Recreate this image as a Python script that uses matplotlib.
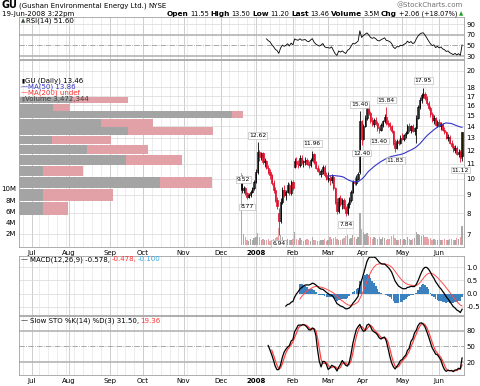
import matplotlib
matplotlib.use("Agg")
import matplotlib.pyplot as plt
from matplotlib.patches import Rectangle
from matplotlib.ticker import NullLocator, NullFormatter
import numpy as np
import pandas as pd

W, H = 480, 386

# NYSE sessions covered by the chart
holidays = ["2007-07-04", "2007-09-03", "2007-11-22", "2007-12-25", "2008-01-01",
            "2008-01-21", "2008-02-18", "2008-03-21", "2008-05-26"]
sessions = pd.bdate_range("2007-06-20", "2008-06-19")
sessions = sessions[~sessions.isin(pd.to_datetime(holidays))]
first_day = pd.Timestamp("2007-12-19")

# daily OHLC from 19-Dec-2007 to 19-Jun-2008
opens = [10.0, 9.3, 9.4, 9.1, 8.9, 9.0, 9.2, 9.4,
         9.8, 10.4, 11.9, 11.5, 11.8, 11.1, 11.2, 10.7, 10.4, 10.2, 9.7, 9.3, 8.7, 8.0, 7.6, 8.6, 9.3, 9.0, 9.2, 9.6, 9.1,
         9.8, 10.8, 11.2, 11.0, 10.9, 11.4, 11.1, 11.2, 11.3, 11.0, 10.9, 11.3, 11.7, 11.1, 10.7, 10.5, 10.3, 10.5, 10.8, 10.2,
         10.0, 10.0, 9.9, 10.1, 9.4, 8.6, 8.1, 8.8, 8.5, 8.7, 8.3, 8.0, 8.5, 8.7, 9.2, 9.8, 9.7, 10.0, 10.4, 14.5,
         12.9, 14.0, 14.8, 15.7, 15.2, 14.5, 14.2, 14.6, 14.3, 13.8, 13.7, 14.1, 14.5, 14.9, 14.3, 14.2, 14.0, 13.6, 12.6, 12.2, 12.7, 12.6,
         13.0, 12.9, 13.2, 13.4, 14.0, 13.7, 14.0, 13.6, 13.8, 14.8, 15.8, 16.6, 17.1, 17.2, 16.8, 16.3, 15.7, 15.1, 14.6, 14.8, 14.1,
         14.4, 14.0, 14.2, 13.7, 13.5, 13.0, 13.1, 12.6, 12.3, 12.0, 12.2, 11.7, 11.9, 11.55]
highs = [10.2, 9.52, 9.45, 9.2, 9.1, 9.3, 9.5, 9.9,
         10.6, 12.62, 12.0, 11.9, 11.9, 11.4, 11.3, 10.9, 10.6, 10.3, 9.9, 9.5, 8.9, 8.3, 8.8, 9.5, 9.6, 9.3, 9.8, 9.7, 9.9,
         9.9, 11.4, 11.5, 11.3, 11.6, 11.6, 11.3, 11.5, 11.4, 11.2, 11.4, 11.96, 11.8, 11.2, 10.9, 10.7, 10.6, 10.9, 10.9, 10.4,
         10.4, 10.2, 10.3, 10.2, 9.5, 8.8, 8.9, 9.0, 8.8, 8.8, 8.4, 8.6, 8.9, 9.3, 9.9, 10.1, 10.2, 10.4, 15.40, 14.6,
         14.2, 15.0, 15.9, 16.2, 15.4, 14.9, 14.8, 14.9, 14.5, 14.0, 14.3, 14.6, 15.1, 15.84, 14.6, 14.4, 14.1, 13.7, 12.9, 12.9, 12.9, 13.2,
         13.4, 13.3, 13.6, 14.2, 14.3, 14.1, 14.2, 13.9, 15.0, 16.0, 16.9, 17.3, 17.95, 17.5, 17.0, 16.5, 15.9, 15.3, 15.0, 14.9, 14.6,
         14.7, 14.4, 14.3, 13.9, 13.6, 13.3, 13.2, 12.8, 12.6, 12.4, 12.3, 12.1, 12.0, 13.50]
lows = [9.1, 9.1, 9.0, 8.77, 8.8, 8.9, 9.1, 9.3,
        9.7, 10.3, 11.2, 11.3, 11.0, 10.8, 10.6, 10.3, 10.0, 9.6, 9.1, 8.6, 8.2, 6.94, 7.5, 8.5, 8.9, 8.7, 9.1, 9.0, 9.0,
        9.3, 10.7, 10.8, 10.7, 10.8, 11.0, 10.8, 10.9, 10.9, 10.7, 10.8, 11.2, 11.0, 10.6, 10.4, 10.2, 10.1, 10.3, 10.1, 9.9,
        9.8, 9.6, 9.7, 9.3, 8.5, 7.95, 8.0, 8.4, 8.2, 8.2, 7.84, 7.9, 8.3, 8.6, 9.1, 9.6, 9.6, 9.9, 10.3, 12.40,
        12.8, 13.9, 14.6, 15.0, 14.3, 14.0, 13.9, 14.1, 13.6, 13.40, 13.6, 13.9, 14.3, 14.1, 13.9, 13.7, 13.4, 12.4, 11.83, 12.1, 12.4, 12.5,
        12.8, 12.7, 13.0, 13.3, 13.5, 13.4, 13.5, 13.2, 12.6, 14.7, 15.6, 16.3, 16.8, 16.6, 16.0, 15.5, 14.9, 14.4, 14.2, 14.0, 13.9,
        13.9, 13.7, 13.6, 13.3, 12.9, 12.7, 12.5, 12.2, 11.9, 11.8, 11.6, 11.5, 11.12, 11.20]
closes = [9.3, 9.4, 9.1, 8.9, 9.0, 9.2, 9.4, 9.8,
          10.4, 11.9, 11.5, 11.8, 11.1, 11.2, 10.7, 10.4, 10.2, 9.7, 9.3, 8.7, 8.4, 7.6, 8.6, 9.3, 9.0, 9.2, 9.6, 9.1, 9.8,
          9.4, 11.2, 11.0, 10.9, 11.4, 11.1, 11.2, 11.3, 11.0, 10.9, 11.3, 11.7, 11.1, 10.7, 10.5, 10.3, 10.5, 10.8, 10.2, 10.0,
          10.0, 9.9, 10.1, 9.4, 8.6, 8.1, 8.8, 8.5, 8.7, 8.3, 8.0, 8.5, 8.7, 9.2, 9.8, 9.7, 10.0, 10.3, 14.5, 12.9,
          14.0, 14.8, 15.7, 15.2, 14.5, 14.2, 14.6, 14.3, 13.8, 13.7, 14.1, 14.5, 14.9, 14.3, 14.2, 14.0, 13.6, 12.6, 12.2, 12.7, 12.6, 13.0,
          12.9, 13.2, 13.4, 14.0, 13.7, 14.0, 13.6, 13.8, 14.8, 15.8, 16.6, 17.1, 17.2, 16.8, 16.3, 15.7, 15.1, 14.6, 14.8, 14.1, 14.4,
          14.0, 14.2, 13.7, 13.5, 13.0, 13.1, 12.6, 12.3, 12.0, 12.2, 11.7, 11.9, 11.40, 13.46]
volumes = [12.8, 2.0, 1.4, 1.0, 0.8, 1.2, 1.0, 1.3,
           1.5, 2.2, 1.4, 1.0, 1.2, 0.9, 1.0, 1.1, 0.8, 1.0, 1.2, 1.3, 1.5, 3.0, 1.8, 1.5, 1.0, 0.9, 1.2, 0.9, 1.0,
           1.1, 2.4, 1.2, 1.0, 1.3, 0.9, 0.8, 1.0, 1.1, 0.9, 0.8, 1.4, 1.0, 0.9, 0.8, 0.7, 1.0, 0.9, 1.2, 0.8,
           1.0, 1.4, 1.1, 1.3, 1.5, 1.2, 1.0, 0.9, 1.1, 1.3, 1.6, 1.8, 1.2, 1.3, 1.9, 1.4, 1.2, 1.5, 5.8, 2.8,
           2.4, 2.0, 2.2, 1.6, 1.4, 1.2, 1.5, 1.3, 1.1, 1.4, 1.2, 1.5, 1.3, 1.0, 1.1, 1.2, 1.6, 1.8, 1.3, 1.0, 0.9, 1.1,
           1.0, 1.2, 0.9, 1.4, 1.1, 1.0, 1.2, 1.3, 2.3, 2.0, 1.8, 1.6, 1.9, 1.5, 1.4, 1.2, 1.3, 1.0, 1.1, 0.9, 1.0,
           1.1, 0.9, 1.0, 1.2, 1.0, 0.9, 1.1, 1.2, 1.0, 0.9, 1.3, 1.1, 1.4, 3.5]

# volume-by-price zones (price band lower edges, zone height, up / down volume in millions)
vbp_low = [7.92, 8.68, 9.43, 10.19, 10.94, 11.70, 12.46, 13.21, 13.97, 14.72, 15.48, 16.24]
vbp_step = 0.756
vbp_up = [2.2, 2.2, 12.7, 2.2, 9.6, 6.1, 3.0, 9.8, 7.4, 19.2, 3.1, 4.8]
vbp_down = [2.2, 6.3, 4.7, 3.6, 5.1, 5.5, 5.3, 7.7, 4.7, 1.0, 1.5, 5.0]

pivot_highs = [9.52, 12.62, 11.96, 15.40, 15.84, 17.95]
pivot_lows = [8.77, 6.94, 7.84, 12.40, 13.40, 11.83, 11.12]

price_ticks = [7, 8, 9, 10, 11, 12, 13, 14, 15, 16, 17, 18, 20]
vol_ticks = [2, 4, 6, 8, 10]

# ---------------------------------------------------------------- indicators
c = np.array(closes)
n = len(c)
g0 = sessions.get_loc(first_day)
xs = np.arange(g0, g0 + n)

ma50 = pd.Series(c).rolling(50).mean().values

d = np.diff(c)
gain = np.where(d > 0, d, 0.0)
loss = np.where(d < 0, -d, 0.0)
rsi = np.full(n, np.nan)
ag, al = gain[:14].mean(), loss[:14].mean()
rsi[14] = 100 - 100 / (1 + ag / al)
for i in range(15, n):
    ag = (ag * 13 + gain[i - 1]) / 14
    al = (al * 13 + loss[i - 1]) / 14
    rsi[i] = 100 - 100 / (1 + ag / al)


def ema(x, span, start):
    out = np.full(len(x), np.nan)
    a = 2 / (span + 1)
    out[start] = np.mean(x[start - span + 1:start + 1])
    for i in range(start + 1, len(x)):
        out[i] = out[i - 1] + a * (x[i] - out[i - 1])
    return out


macd = ema(c, 12, 25) - ema(c, 26, 25)
signal = ema(macd, 9, 33)
hist = macd - signal

hh = pd.Series(highs).rolling(14).max()
ll = pd.Series(lows).rolling(14).min()
fastk = 100 * (pd.Series(c) - ll) / (hh - ll)
slowk = fastk.rolling(3).mean().values
slowd = pd.Series(slowk).rolling(3).mean().values

# ---------------------------------------------------------------- layout
g_jul = sessions.get_loc(pd.Timestamp("2007-07-02"))
xlim = (g_jul - 7.4, len(sessions) - 1 + 0.8)
month_pos = [i for i in range(1, len(sessions)) if sessions[i].month != sessions[i - 1].month]
month_lab = ["2008" if sessions[i].month == 1 else sessions[i].strftime("%b") for i in month_pos]
week_pos = [i for i in range(1, len(sessions)) if sessions[i].weekday() < sessions[i - 1].weekday()]

fig = plt.figure(figsize=(4.8, 3.86), dpi=100)
fig.patch.set_facecolor("white")


def rect(x0, y0, x1, y1):
    return [x0 / W, 1 - y1 / H, (x1 - x0) / W, (y1 - y0) / H]


def panel(r, ylim, ticks, labels, log=False, hlines=True):
    ax = fig.add_axes(r)
    if log:
        ax.set_yscale("log")
    ax.set_xlim(xlim)
    ax.set_ylim(ylim)
    for p in week_pos:
        ax.axvline(p, color="#e6e6e6", lw=0.5, zorder=0)
    for p in month_pos:
        ax.axvline(p, color="#c8c8c8", lw=0.6, zorder=0)
    if hlines:
        for t in ticks:
            ax.axhline(t, color="#d8d8d8", lw=0.5, zorder=0)
    ax.set_yticks(ticks)
    ax.set_yticklabels(labels)
    ax.yaxis.set_minor_locator(NullLocator())
    ax.yaxis.set_minor_formatter(NullFormatter())
    ax.yaxis.tick_right()
    ax.tick_params(axis="y", length=0, labelsize=5, pad=2)
    ax.set_xticks([])
    for s in ax.spines.values():
        s.set_color("#a0a0a0")
        s.set_linewidth(0.6)
    return ax


def month_labels(ax):
    ax.set_xticks(month_pos)
    ax.set_xticklabels(month_lab)
    ax.tick_params(axis="x", length=0, labelsize=5, pad=2.5)
    for t in ax.get_xticklabels():
        if t.get_text() == "2008":
            t.set_fontweight("bold")


# RSI panel
ax_rsi = panel(rect(19, 17, 463.5, 58.5), (25.3, 103.8), [30, 50, 70, 90], ["30", "50", "70", "90"], hlines=False)
ax_rsi.axhline(90, color="#d8d8d8", lw=0.5, zorder=0)
ax_rsi.axhline(70, color="#b4b4b4", lw=1.2, zorder=0)
ax_rsi.axhline(30, color="#b4b4b4", lw=1.2, zorder=0)
ax_rsi.axhline(50, color="#999999", lw=0.6, ls="-.", zorder=0)
ax_rsi.plot(xs, rsi, color="black", lw=0.6)

# price panel
prect = rect(19, 59.5, 463.5, 247)
ax_p = panel(prect, (6.44, 21.5), price_ticks, [str(t) for t in price_ticks], log=True)
ax_p.set_zorder(0)

ax_vbp = ax_p.twiny()
ax_vbp.set_zorder(1)
ax_vbp.patch.set_visible(False)
ax_vbp.set_xlim(0, 40)
ax_vbp.axis("off")
ax_vbp.barh(vbp_low, vbp_up, height=vbp_step * 0.9, align="edge", color="#a4a4a4", lw=0)
ax_vbp.barh(vbp_low, vbp_down, left=vbp_up, height=vbp_step * 0.9, align="edge", color="#e2a1a6", lw=0)

ax_v = ax_p.twinx()
ax_v.set_zorder(2)
ax_v.patch.set_visible(False)
ax_v.set_ylim(-0.31, 33.0)
vol_colors = ["#a9a9a9" if i == 0 or c[i] >= c[i - 1] else "#e8a3a8" for i in range(n)]
ax_v.bar(xs, volumes, width=0.75, color=vol_colors, lw=0)
ax_v.set_yticks(vol_ticks)
ax_v.set_yticklabels([f"{t}M" for t in vol_ticks])
ax_v.yaxis.tick_left()
ax_v.tick_params(axis="y", length=0, labelsize=5, pad=2)
for s in ax_v.spines.values():
    s.set_visible(False)

# twinx/twiny move the parent's ticks, put them back
ax_p.yaxis.tick_right()
ax_p.tick_params(axis="y", length=0, labelsize=5, pad=2)
month_labels(ax_p)

ax_c = fig.add_axes(prect, sharex=ax_p, sharey=ax_p)
ax_c.set_zorder(3)
ax_c.patch.set_visible(False)
ax_c.axis("off")
for i in range(n):
    col = "black" if i == 0 or c[i] >= c[i - 1] else "#e0102c"
    x = xs[i]
    if i == n - 1:
        ax_c.vlines(x, lows[i], highs[i], color="black", lw=0.6)
        ax_c.add_patch(Rectangle((x - 0.45, opens[i]), 0.9, closes[i] - opens[i],
                                 fc="#c8bb00", ec="black", lw=0.5))
        continue
    ax_c.vlines(x, lows[i], highs[i], color=col, lw=0.6)
    lo, hi = sorted([opens[i], closes[i]])
    if hi - lo < 0.03:
        hi = lo + 0.03
    fc = "white" if closes[i] > opens[i] else col
    ax_c.add_patch(Rectangle((x - 0.35, lo), 0.7, hi - lo, fc=fc, ec=col, lw=0.5))
ax_c.plot(xs, ma50, color="#3535c8", lw=0.8)

box = dict(boxstyle="square,pad=0.15", fc="white", ec="#b0b0b0", lw=0.4)
for v in pivot_highs:
    i = highs.index(v)
    ax_c.annotate(f"{v:.2f}", xy=(xs[i], v), xytext=(0, 7), textcoords="offset pixels",
                  ha="center", va="center", fontsize=4.3, bbox=box)
for v in pivot_lows:
    i = lows.index(v)
    ax_c.annotate(f"{v:.2f}", xy=(xs[i], v), xytext=(0, -8), textcoords="offset pixels",
                  ha="center", va="center", fontsize=4.3, bbox=box)

# MACD panel
ax_m = panel(rect(19, 255.5, 463.5, 314.5), (-0.797, 1.449), [-0.5, 0.0, 0.5, 1.0],
             ["-0.5", "0.0", "0.5", "1.0"])
ax_m.bar(xs, hist, width=0.95, color="#3b80bf", lw=0)
ax_m.plot(xs, signal, color="#ff4a4a", lw=0.7)
ax_m.plot(xs, macd, color="black", lw=0.9)

# Slow stochastic panel
ax_s = panel(rect(19, 315.5, 463.5, 375), (-4.1, 108.8), [20, 50, 80], ["20", "50", "80"], hlines=False)
ax_s.axhline(80, color="#b4b4b4", lw=1.2, zorder=0)
ax_s.axhline(20, color="#b4b4b4", lw=1.2, zorder=0)
ax_s.axhline(50, color="#999999", lw=0.6, ls="-.", zorder=0)
ax_s.plot(xs, slowd, color="#ff4040", lw=0.9)
ax_s.plot(xs, slowk, color="black", lw=0.9)
month_labels(ax_s)

# ---------------------------------------------------------------- text
fig.canvas.draw()
renderer = fig.canvas.get_renderer()


def run(x, y, pieces, align="left", gap=1.6):
    objs = []
    for s, col, size, wt in pieces:
        objs.append(fig.text(0, 1 - y / H, s, color=col, fontsize=size, fontweight=wt,
                             va="center", ha="left"))
    widths = [t.get_window_extent(renderer=renderer).width for t in objs]
    total = sum(widths) + gap * (len(objs) - 1)
    cur = x - total if align == "right" else x
    for t, w in zip(objs, widths):
        t.set_x(cur / W)
        cur += w + gap


run(2, 5.5, [("GU", "black", 7, "bold"), ("(Gushan Environmental Energy Ltd.)", "black", 5, "normal"),
             ("NYSE", "black", 5, "normal")])
fig.text(463 / W, 1 - 5.5 / H, "@StockCharts.com", color="#707070", fontsize=5, ha="right", va="center")
fig.text(2 / W, 1 - 14 / H, "19-Jun-2008 3:22pm", color="black", fontsize=5, va="center")
run(463, 14, [("Open", "black", 5.3, "bold"), ("11.55", "black", 4.8, "normal"),
              ("High", "black", 5.3, "bold"), ("13.50", "black", 4.8, "normal"),
              ("Low", "black", 5.3, "bold"), ("11.20", "black", 4.8, "normal"),
              ("Last", "black", 5.3, "bold"), ("13.46", "black", 4.8, "normal"),
              ("Volume", "black", 5.3, "bold"), ("3.5M", "black", 4.8, "normal"),
              ("Chg", "black", 5.3, "bold"), ("+2.06 (+18.07%)", "black", 4.8, "normal"),
              ("\u25b2", "#20a020", 4, "normal")], align="right")

run(21, 20.7, [("\u25b2", "#405040", 4, "normal"), ("RSI(14) 51.60", "black", 5, "normal")], gap=0.8)
run(21, 80.7, [("\u25ae", "black", 4, "normal"), ("GU (Daily) 13.46", "black", 5, "normal")], gap=1.0)
run(21, 86.7, [("\u2014", "#3535c8", 5, "normal"), ("MA(50) 13.86", "#3535c8", 5, "normal")], gap=0.5)
run(21, 92.7, [("\u2014", "#ff3030", 5, "normal"), ("MA(200) undef", "#ff3030", 5, "normal")], gap=0.5)
run(21, 99, [("\u25ae", "#707070", 4, "normal"), ("Volume 3,472,344", "#404040", 5, "normal")], gap=1.0)
run(21, 259.3, [("\u2014", "black", 5, "normal"), ("MACD(12,26,9) -0.578,", "black", 5, "normal"),
                ("-0.478,", "#ff3030", 5, "normal"), ("-0.100", "#40a8e0", 5, "normal")])
run(21, 320.7, [("\u2014", "black", 5, "normal"), ("Slow STO %K(14) %D(3) 31.50,", "black", 5, "normal"),
                ("19.36", "#ff3030", 5, "normal")])

fig.savefig("out.png", dpi=100, facecolor="white")
